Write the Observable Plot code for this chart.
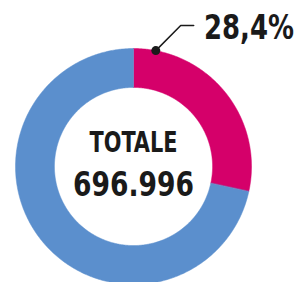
<!DOCTYPE html>
<html>
<head>
<meta charset="utf-8">
<script src="https://cdn.jsdelivr.net/npm/d3@7"></script>
<script src="https://cdn.jsdelivr.net/npm/@observablehq/plot@0.6"></script>
<style>
  html, body { margin: 0; padding: 0; background: #ffffff; }
  svg { display: block; }
</style>
</head>
<body>
<div id="chart"></div>
<script>
// ---- data ----
const categories = ["Quota", "Resto"];
const shares = [28.4, 71.6];
const colors = ["#d5006a", "#5b8fcd"];
const highlightLabel = "28,4%";
const centerTitle = "TOTALE";
const centerValue = "696.996";

// ---- build slices from data ----
const pie = d3.pie().sort(null).value(d => d.share)(
  categories.map((cat, i) => ({cat, share: shares[i]}))
);
const inner = 0.67;
const pts = [];
for (const s of pie) {
  const n = Math.max(4, Math.ceil((s.endAngle - s.startAngle) / 0.01));
  for (let k = 0; k <= n; k++) {
    const a = s.startAngle + (s.endAngle - s.startAngle) * k / n;
    pts.push({cat: s.data.cat, x: Math.sin(a), y: Math.cos(a)});
  }
  for (let k = n; k >= 0; k--) {
    const a = s.startAngle + (s.endAngle - s.startAngle) * k / n;
    pts.push({cat: s.data.cat, x: inner * Math.sin(a), y: inner * Math.cos(a)});
  }
}

// leader for highlighted slice
const a0 = pie[0].startAngle + 0.19;
const leader = [
  {x: Math.sin(a0), y: Math.cos(a0)},
  {x: 0.40, y: 1.195},
  {x: 0.51, y: 1.195}
];

const font = "'Liberation Sans Narrow', 'DejaVu Sans Condensed', sans-serif";

const chart = Plot.plot({
  width: 304,
  height: 282,
  margin: 0,
  x: {domain: [-133 / 118, 171 / 118], axis: null},
  y: {domain: [-116 / 118, 166 / 118], axis: null},
  color: {domain: categories, range: colors},
  style: {background: "#ffffff"},
  marks: [
    Plot.line(pts, {x: "x", y: "y", z: "cat", fill: "cat", stroke: "cat", strokeWidth: 0.5, curve: "linear-closed"}),
    Plot.line(leader, {x: "x", y: "y", stroke: "#1a1a1a", strokeWidth: 1.5}),
    Plot.dot([leader[0]], {x: "x", y: "y", r: 4.5, fill: "#1a1a1a"}),
    Plot.text([highlightLabel], {x: 1.36, y: 1.175, text: d => d, textAnchor: "end", lineAnchor: "middle",
      fontSize: 34, fontWeight: "bold", fontFamily: font, fill: "#1a1a1a"}),
    Plot.text([centerTitle], {x: 0, y: 0.2, text: d => d, textAnchor: "middle", lineAnchor: "middle",
      fontSize: 29, fontWeight: "bold", fontFamily: font, fill: "#1a1a1a"}),
    Plot.text([centerValue], {x: 0, y: -0.16, text: d => d, textAnchor: "middle", lineAnchor: "middle",
      fontSize: 34, fontWeight: "bold", fontFamily: font, fill: "#1a1a1a"})
  ]
});

// condense the bold lettering to the narrow width of the original typeface
const widths = new Map([[highlightLabel, 90], [centerTitle, 88], [centerValue, 121]]);
d3.select(chart).selectAll("text").each(function () {
  const w = widths.get(this.textContent);
  if (w) d3.select(this).attr("textLength", w).attr("lengthAdjust", "spacingAndGlyphs");
});

document.getElementById("chart").appendChild(chart);
</script>
</body>
</html>
